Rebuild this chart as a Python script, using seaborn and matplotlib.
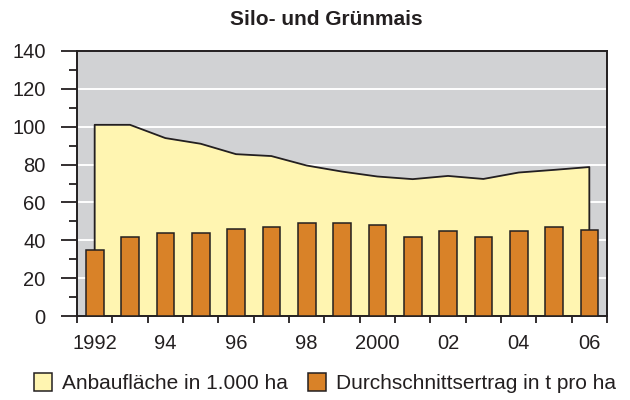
import numpy as np
import pandas as pd
import matplotlib
matplotlib.use('Agg')
import matplotlib.pyplot as plt
import seaborn as sns
from matplotlib.patches import Patch
from matplotlib.ticker import MultipleLocator, FixedLocator

years = list(range(1992, 2007))
flaeche = [101, 101, 94, 91, 85.5, 84.5, 79.5, 76.3, 73.7, 72.3, 74, 72.4, 75.8, 77.2, 78.7]
ertrag = [35, 42, 44, 44, 46, 46.8, 49, 49, 48, 42, 44.7, 42, 44.7, 46.8, 45.3]
xlabels = ['1992', '94', '96', '98', '2000', '02', '04', '06']

df = pd.DataFrame({'Jahr': years, 'Flaeche': flaeche, 'Ertrag': ertrag})

gray = '#d1d2d4'
yellow = '#fff5b1'
orange = '#d98228'
dark = '#231f20'

sns.set_style('white')
plt.rcParams['font.family'] = ['Liberation Sans', 'DejaVu Sans']

fig = plt.figure(figsize=(6.3, 4), dpi=100)
ax = fig.add_axes([77 / 630, 1 - 316 / 400, 530 / 630, 265 / 400])
ax.set_facecolor(gray)

# area for Anbauflaeche, bars for Ertrag
pos = np.arange(len(years))
ax.fill_between(pos, df['Flaeche'], 0, color=yellow, lw=0, zorder=2)
ax.plot(np.r_[pos[0], pos, pos[-1]], np.r_[0, df['Flaeche'], 0], color=dark, lw=1.3, zorder=3)

sns.barplot(data=df, x='Jahr', y='Ertrag', color=orange, edgecolor=dark,
            linewidth=1.1, width=0.5, saturation=1, ax=ax, zorder=4)

ax.set_xlim(-0.5, len(years) - 0.5)
ax.set_ylim(0, 140)
ax.set_xlabel('')
ax.set_ylabel('')

ax.yaxis.set_major_locator(MultipleLocator(20))
ax.yaxis.set_minor_locator(MultipleLocator(10))
ax.grid(axis='y', which='major', color='white', lw=1.4, zorder=1)
ax.set_axisbelow(True)
ax.xaxis.grid(False)

ax.set_xticks(pos[::2])
ax.set_xticklabels(xlabels)
ax.xaxis.set_minor_locator(FixedLocator(np.arange(-0.5, len(years), 1)))
ax.tick_params(axis='x', which='major', length=0, pad=13, labelsize=14.5, colors=dark)
ax.tick_params(axis='x', which='minor', length=5, width=1.3, color=dark, direction='out', bottom=True)
ax.tick_params(axis='y', which='major', length=11.5, width=1.3, pad=11, labelsize=14.5, colors=dark, left=True)
ax.tick_params(axis='y', which='minor', length=5.5, width=1.3, color=dark, left=True)

for s in ax.spines.values():
    s.set_visible(True)
    s.set_color(dark)
    s.set_linewidth(1.4)

ax.set_title('Silo- und Grünmais', fontsize=15, fontweight='bold', color=dark, pad=19, x=0.47)

handles = [Patch(facecolor=yellow, edgecolor=dark, lw=1.1),
           Patch(facecolor=orange, edgecolor=dark, lw=1.1)]
fig.legend(handles, ['Anbaufläche in 1.000 ha', 'Durchschnittsertrag in t pro ha'],
           loc='center', bbox_to_anchor=(0.516, 0.043), ncol=2, frameon=False,
           fontsize=15, handlelength=0.87, handleheight=0.96, handletextpad=0.48,
           columnspacing=0.96, labelcolor=dark, borderpad=0.2)

fig.savefig('out.png', dpi=100)
